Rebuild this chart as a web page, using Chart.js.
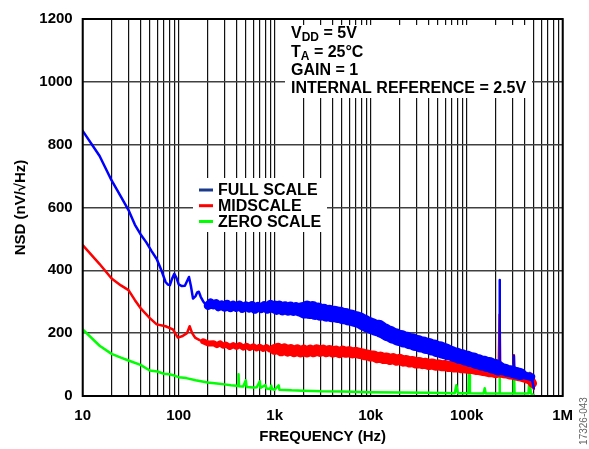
<!DOCTYPE html>
<html>
<head>
<meta charset="utf-8">
<script src="https://cdn.jsdelivr.net/npm/chart.js@4.4.1/dist/chart.umd.min.js"></script>
<style>
  html, body { margin: 0; padding: 0; background: #fff; }
  #wrap { width: 589px; height: 449px; position: relative; }
</style>
</head>
<body>
<div id="wrap"><canvas id="nsd"></canvas></div>
<script>
// Noise spectral density vs frequency, three DAC codes

// FULL SCALE
const fullFreq = [10, 15, 20, 25, 30, 35, 40, 46, 52, 59, 66, 73, 77, 81, 85, 90, 95, 100, 108, 116, 122, 128, 134, 141, 150, 156, 162, 170, 180, 190, 203,
  215, 230, 245, 260, 280, 300, 320, 345, 370, 400, 430, 460, 500, 540, 580, 620, 670, 720, 780, 840, 900, 960, 1000,
  1050, 1120, 1200, 1280, 1370, 1460, 1560, 1670, 1780, 1900, 2030, 2170, 2320, 2480, 2650, 2830, 3020, 3230, 3450, 3690, 3940, 4210, 4500, 4810, 5140, 5490, 5870, 6270, 6700, 7160, 7650, 8180, 8740, 9340, 10000,
  10700, 11400, 12200, 13000, 13900, 14900, 15900, 17000, 18200, 19400, 20800, 22200, 23700, 25400, 27100, 29000, 31000, 33100, 35400, 37800, 40400, 43200, 46100, 49300, 52700, 56300, 60200, 64300, 68700, 73400, 78500, 83900, 89600, 95800, 102000,
  109000, 117000, 125000, 133000, 142000, 152000, 162000, 173000, 185000, 198000, 212000, 218000, 220000, 222000, 235000, 250000, 265000, 285000, 307000, 310000, 313000, 340000, 365000, 390000, 420000, 450000, 470000, 485000, 500000];
const fullNsd = [844, 764, 686, 635, 592, 545, 515, 489, 462, 436, 400, 363, 355, 353, 372, 389, 375, 355, 350, 351, 365, 379, 350, 310, 318, 330, 332, 315, 301, 292, 288,
  296, 290, 294, 284, 290, 283, 292, 281, 289, 282, 290, 279, 287, 280, 288, 276, 285, 278, 288, 276, 292, 278, 285,
  278, 284, 276, 282, 275, 281, 274, 280, 273, 279, 272, 278, 271, 276, 268, 272, 265, 268, 262, 265, 260, 262, 258, 259, 254, 255, 250, 250, 246, 244, 241, 236, 232, 227, 224,
  220, 216, 217, 210, 206, 200, 198, 192, 190, 185, 185, 180, 179, 174, 174, 169, 169, 164, 164, 159, 159, 154, 154, 149, 149, 144, 142, 138, 136, 132, 130, 126, 125, 121, 120,
  116, 115, 110, 109, 105, 104, 100, 100, 95, 94, 89, 88, 369, 87, 85, 84, 80, 79, 76, 128, 75, 72, 70, 67, 64, 62, 60, 45, 25];

// MIDSCALE
const midFreq = [10, 15, 20, 25, 30, 35, 40, 50, 59, 73, 87, 98, 110, 122, 130, 138, 148, 165, 180, 203, 230, 250, 270, 290,
  310, 340, 370, 400, 430, 470, 510, 550, 600, 650, 700, 760, 820, 890, 960, 1000,
  1080, 1170, 1260, 1360, 1470, 1590, 1720, 1860, 2010, 2170, 2350, 2540, 2740, 2960, 3200, 3460, 3740, 4040, 4370, 4720, 5100, 5510, 5960, 6440, 6960, 7520, 8130, 8790, 9500, 10000,
  10800, 11700, 12600, 13600, 14700, 15900, 17200, 18600, 20100, 21700, 23500, 25400, 27400, 29600, 32000, 34600, 37400, 40400, 43700, 47200, 51000, 55100, 59500, 64300, 69500, 75100, 81200, 87700, 94800, 104000, 106000, 108000,
  117000, 126000, 136000, 147000, 159000, 172000, 186000, 201000, 215000, 220000, 224000, 240000, 260000, 280000, 307000, 310000, 313000, 345000, 370000, 400000, 430000, 450000, 458000, 466000, 485000, 500000];
const midNsd = [480, 420, 374, 352, 337, 305, 280, 248, 228, 222, 212, 186, 191, 200, 222, 200, 186, 178, 174, 167, 168, 162, 168, 160,
  164, 156, 162, 156, 162, 154, 160, 153, 158, 151, 157, 150, 156, 148, 154, 148,
  152, 144, 150, 143, 148, 141, 147, 140, 146, 140, 146, 141, 147, 142, 146, 141, 145, 140, 143, 138, 143, 139, 141, 137, 139, 136, 134, 131, 130, 127,
  127, 122, 124, 119, 121, 116, 119, 114, 117, 111, 113, 108, 110, 105, 107, 103, 104, 100, 102, 98, 99, 96, 97, 94, 95, 92, 93, 90, 90, 88, 113, 88,
  87, 84, 84, 81, 80, 77, 77, 74, 74, 259, 73, 71, 70, 67, 66, 130, 65, 62, 60, 57, 53, 51, 72, 50, 40, 22];

// ZERO SCALE
const zeroFreq = [10, 15, 20, 25, 30, 40, 50, 60, 70, 80, 90, 100, 120, 150, 200, 250, 300, 350, 400, 415, 420, 425, 470, 500, 510, 600, 650, 700, 710, 800, 820, 900, 920, 940, 1000, 1100, 1120,
  1300, 1500, 2000, 3000, 5000, 10000, 20000, 40000, 75000, 78000, 81000, 104000, 106000, 108000, 150000, 154000, 158000,
  218000, 220000, 222000, 305000, 310000, 315000, 440000, 453000, 465000, 500000];
const zeroNsd = [212, 160, 134, 122, 113, 99, 81, 78, 71, 69, 65, 60, 57, 50, 43, 40, 37, 34, 33, 32, 69, 31, 30, 50, 29, 27, 28, 47, 26, 35, 24, 22, 33, 22, 20, 34, 20,
  19, 18, 17, 15, 14, 12, 11, 10, 9, 34, 9, 9, 76, 9, 8, 25, 8,
  8, 150, 8, 8, 100, 8, 8, 74, 8, 3];

// axis ticks
const decadeValues = [10, 100, 1000, 10000, 100000, 1000000];
const decadeLabels = ['10', '100', '1k', '10k', '100k', '1M'];
const yTicks = [0, 200, 400, 600, 800, 1000, 1200];

// notes printed inside the plot
const noteLines = [
  [['V', 0], ['DD', 1], [' = 5V', 0]],
  [['T', 0], ['A', 1], [' = 25°C', 0]],
  [['GAIN = 1', 0]],
  [['INTERNAL REFERENCE = 2.5V', 0]]
];
const seriesNames = ['FULL SCALE', 'MIDSCALE', 'ZERO SCALE'];
const lineColors = ['#0000ff', '#ff0000', '#00ff00'];
const keyColors = ['#1b3a8c', '#ff0000', '#00ff00'];

// stroke width (px) of each trace by frequency band: [from Hz, width]
const fullStroke = [[0, 2.5], [195, 9], [1000, 12], [2000, 16], [60000, 15], [200000, 12], [350000, 8]];
const midStroke = [[0, 2.5], [175, 6], [1000, 11], [200000, 9]];
const zeroStroke = [[0, 2.5]];

const FONT = "'Liberation Sans', Arial, sans-serif";

function pts(xs, ys) { return xs.map((x, i) => ({ x: x, y: ys[i] })); }

function strokeFor(table) {
  return (ctx) => {
    // steep, narrow spectral spurs stay thin
    const dx = Math.abs(ctx.p1.x - ctx.p0.x);
    const dy = Math.abs(ctx.p1.y - ctx.p0.y);
    if (dx < 3 && dy > 3 * dx) return 2.5;
    const f = ctx.p0.parsed.x;
    let w = table[0][1];
    for (const [from, width] of table) if (f >= from) w = width;
    return w;
  };
}

const overlay = {
  id: 'overlay',
  beforeDatasetsDraw(chart) {
    const ctx = chart.ctx;
    ctx.save();
    // blank areas behind the notes and the key
    ctx.fillStyle = '#ffffff';
    ctx.fillRect(285, 25, 247, 73);
    ctx.fillRect(193, 178, 134, 54);
    ctx.restore();
  },
  afterDatasetsDraw(chart) {
    const ctx = chart.ctx;
    const a = chart.chartArea;
    ctx.save();
    // plot frame
    ctx.strokeStyle = '#000';
    ctx.lineWidth = 2;
    ctx.strokeRect(a.left, a.top, a.right - a.left, a.bottom - a.top);

    // notes
    ctx.fillStyle = '#000';
    ctx.textBaseline = 'alphabetic';
    const baselines = [37.5, 56.5, 75, 92.5];
    noteLines.forEach((parts, i) => {
      let x = 291;
      parts.forEach(([txt, sub]) => {
        ctx.font = sub ? `bold 12px ${FONT}` : `bold 16px ${FONT}`;
        ctx.fillText(txt, x, baselines[i] + (sub ? 3 : 0));
        x += ctx.measureText(txt).width;
      });
    });

    // key
    const keyBase = [195, 210.7, 226.5];
    ctx.font = `bold 16px ${FONT}`;
    seriesNames.forEach((name, i) => {
      ctx.fillStyle = keyColors[i];
      ctx.fillRect(199, keyBase[i] - 6.5, 14, 3);
      ctx.fillStyle = '#000';
      ctx.fillText(name, 218, keyBase[i]);
    });

    // figure number
    ctx.translate(587, 421);
    ctx.rotate(-Math.PI / 2);
    ctx.textAlign = 'center';
    ctx.fillStyle = '#666';
    ctx.font = `10px ${FONT}`;
    ctx.fillText('17326-043', 0, 0);
    ctx.restore();
  }
};

const tickFont = { family: FONT, size: 15, weight: 'bold' };

new Chart(document.getElementById('nsd'), {
  type: 'line',
  data: {
    datasets: [
      { label: seriesNames[0], data: pts(fullFreq, fullNsd), borderColor: lineColors[0], segment: { borderWidth: strokeFor(fullStroke) } },
      { label: seriesNames[1], data: pts(midFreq, midNsd), borderColor: lineColors[1], segment: { borderWidth: strokeFor(midStroke) } },
      { label: seriesNames[2], data: pts(zeroFreq, zeroNsd), borderColor: lineColors[2], segment: { borderWidth: strokeFor(zeroStroke) } }
    ]
  },
  options: {
    responsive: true,
    maintainAspectRatio: false,
    animation: false,
    devicePixelRatio: 1,
    layout: { padding: { left: 0, right: 26.3, top: 13, bottom: 0 } },
    elements: {
      point: { radius: 0 },
      line: { borderWidth: 2.5, tension: 0, borderJoinStyle: 'round', borderCapStyle: 'round' }
    },
    plugins: { legend: { display: false }, tooltip: { enabled: false } },
    scales: {
      x: {
        type: 'logarithmic',
        min: 10,
        max: 1000000,
        afterBuildTicks(scale) {
          const t = [];
          for (let d = 10; d < 1000000; d *= 10) {
            for (let m = 1; m < 10; m++) t.push({ value: d * m });
          }
          t.push({ value: 1000000 });
          scale.ticks = t;
        },
        afterFit(scale) { scale.height = 53; },
        grid: { color: '#111', lineWidth: 1.2, drawTicks: false },
        border: { display: false },
        ticks: {
          autoSkip: false,
          maxRotation: 0,
          padding: 11,
          color: '#000',
          font: tickFont,
          callback(value) {
            const i = decadeValues.indexOf(Math.round(value));
            return i >= 0 ? decadeLabels[i] : '';
          }
        },
        title: {
          display: true,
          text: 'FREQUENCY (Hz)',
          color: '#000',
          font: tickFont,
          padding: { top: 3, bottom: 3 }
        }
      },
      y: {
        min: 0,
        max: 1200,
        afterBuildTicks(scale) { scale.ticks = yTicks.map(v => ({ value: v })); },
        afterFit(scale) { scale.width = 82.7; },
        grid: { color: '#404040', lineWidth: 1.5, drawTicks: false },
        border: { display: false },
        ticks: {
          padding: 10,
          color: '#000',
          font: tickFont,
          callback(value) { return String(value); }
        },
        title: {
          display: true,
          text: 'NSD (nV/√Hz)',
          color: '#000',
          font: tickFont,
          padding: { top: 12, bottom: 12 }
        }
      }
    }
  },
  plugins: [overlay]
});
</script>
</body>
</html>
